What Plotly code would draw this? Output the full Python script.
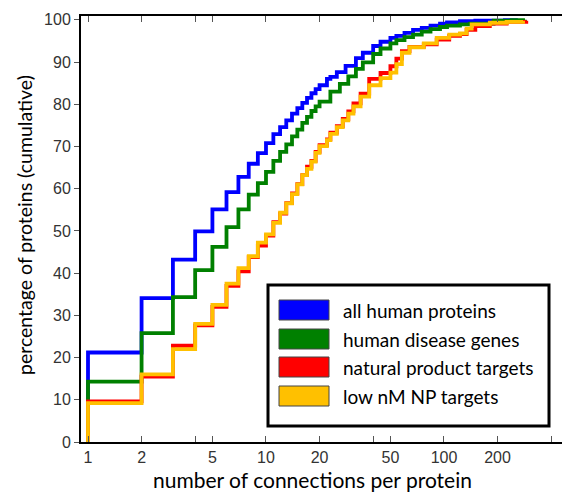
import plotly.graph_objects as go

# ---------------- data ----------------
blue_x = [1, 2, 3, 4, 5, 6, 7, 8, 9, 10, 11, 12, 13, 14, 15, 16, 17, 18, 19, 20,
          22, 23, 25, 28, 32, 35, 40, 44, 50, 54, 60, 67, 75, 84, 95, 104, 123, 150, 220, 260]
blue_y = [21.2, 34.1, 43.2, 49.9, 55.1, 59.2, 62.8, 65.9, 68.4, 70.8, 72.9, 74.6, 76.2, 77.8, 79.1,
          80.3, 81.5, 82.6, 83.6, 84.5, 86.0, 86.5, 87.6, 89.1, 90.9, 92.2, 93.8, 94.8, 95.7, 96.2,
          96.9, 97.6, 98.1, 98.6, 99.1, 99.4, 99.7, 99.8, 99.9, 100.0]

green_x = [1, 2, 3, 4, 5, 6, 7, 8, 9, 10, 11, 12, 13, 14, 15, 16, 17, 18, 19, 20,
           23, 26, 29, 32, 35, 40, 44, 50, 54, 60, 67, 75, 84, 95, 104, 123, 140, 190, 240, 285]
green_y = [14.3, 25.8, 34.3, 40.7, 46.2, 50.9, 55.1, 58.6, 61.3, 64.0, 66.6, 68.7, 70.5, 72.4, 74.0,
           75.6, 77.0, 78.4, 79.5, 80.6, 83.0, 84.8, 86.6, 88.4, 89.9, 91.9, 93.2, 94.4, 95.2, 95.9,
           96.5, 97.2, 97.8, 98.3, 98.6, 98.9, 99.1, 99.8, 99.9, 100.0]

red_x = [1, 2, 3, 4, 5, 6, 7, 8, 9, 10, 11, 12, 13, 14, 15, 16, 17, 18, 19, 20,
         22, 23, 25, 27, 29, 31, 34, 38, 44, 50, 54, 58, 64, 77, 91, 107, 123, 134, 150, 181, 225, 290]
red_y = [9.6, 15.5, 22.8, 27.6, 32.0, 37.0, 40.4, 43.8, 46.5, 48.9, 52.1, 54.1, 56.6, 58.9, 61.1,
         63.2, 65.2, 66.6, 68.7, 70.3, 71.7, 73.3, 74.8, 76.5, 78.3, 80.2, 82.5, 86.0, 87.4, 89.0,
         90.8, 92.6, 93.6, 94.2, 95.3, 96.2, 96.6, 97.6, 98.5, 99.1, 99.5, 99.8]

orange_x = [1, 2, 3, 4, 5, 6, 7, 8, 9, 10, 11, 12, 13, 14, 15, 16, 17, 18, 19, 20,
            22, 23, 25, 27, 29, 31, 34, 38, 44, 50, 54, 58, 64, 77, 91, 107, 123, 134, 143, 181, 225, 278]
orange_y = [9.2, 16.0, 22.0, 28.0, 32.5, 37.5, 41.2, 44.0, 47.2, 49.2, 51.9, 54.3, 56.5, 58.7, 61.0,
            63.2, 64.7, 66.4, 68.5, 70.1, 71.5, 73.0, 74.6, 76.2, 77.8, 79.5, 81.8, 84.5, 86.2, 87.5,
            89.5, 92.2, 93.5, 94.4, 95.7, 96.5, 96.8, 97.9, 98.9, 99.3, 99.5, 99.8]

series_names = ["all human proteins", "human disease genes",
                "natural product targets", "low nM NP targets"]
series_colors = ["#0000FF", "#008000", "#FF0000", "#FFC000"]

x_tickvals = [1, 2, 4, 5, 10, 20, 40, 50, 100, 200, 400]
x_ticktext = ["1", "2", "", "5", "10", "20", "", "50", "100", "200", ""]
y_tickvals = [0, 10, 20, 30, 40, 50, 60, 70, 80, 90, 100]

# ---------------- figure ----------------
W, H = 562, 493
ML, MR, MT, MB = 81, 0, 16, 51
PW, PH = W - ML - MR, H - MT - MB


def px(x):
    return (x - ML) / PW


def py(y):
    return (H - MB - y) / PH


fig = go.Figure()
all_series = [(blue_x, blue_y), (green_x, green_y), (red_x, red_y), (orange_x, orange_y)]
for (xs, ys), name, col in zip(all_series, series_names, series_colors):
    fig.add_trace(go.Scatter(
        x=[xs[0]] + list(xs), y=[0] + list(ys), name=name,
        mode="lines", line=dict(color=col, width=3.8, shape="hv"),
        showlegend=False, hoverinfo="skip"))

tickfont = dict(family="Liberation Sans, Arial, sans-serif", size=16, color="#333333")
fig.update_xaxes(type="log", range=[-0.0393, 2.663],
                 tickvals=x_tickvals, ticktext=x_ticktext,
                 ticks="inside", ticklen=6, tickwidth=1, tickcolor="#555555",
                 showline=True, linecolor="black", linewidth=2, mirror="ticks",
                 showgrid=False, zeroline=False, tickfont=tickfont)
fig.update_yaxes(range=[0, 100.9], tickvals=y_tickvals,
                 ticks="outside", ticklen=5, tickwidth=1, tickcolor="#555555",
                 showline=True, linecolor="black", linewidth=2, mirror=False,
                 showgrid=False, zeroline=False, tickfont=tickfont)

annotations = [
    dict(text="number of connections per protein", xref="paper", yref="paper",
         x=px(312), y=py(479), xanchor="center", yanchor="middle",
         showarrow=False, borderpad=0,
         font=dict(family="Lato, Open Sans, sans-serif", size=21, color="black")),
    dict(text="percentage of proteins (cumulative)", xref="paper", yref="paper",
         x=px(24), y=py(225), xanchor="center", yanchor="middle", textangle=-90,
         showarrow=False,
         font=dict(family="Lato, Open Sans, sans-serif", size=19.5, color="black")),
]

shapes = [dict(type="rect", xref="paper", yref="paper",
               x0=px(268), x1=px(549), y0=py(426), y1=py(285),
               line=dict(color="black", width=3), fillcolor="white", layer="above")]
legend_rows = [310, 339, 367, 396]
for name, col, yc in zip(series_names, series_colors, legend_rows):
    shapes.append(dict(type="rect", xref="paper", yref="paper",
                       x0=px(279), x1=px(329), y0=py(yc + 10), y1=py(yc - 10),
                       line=dict(color="#444444", width=1), fillcolor=col, layer="above"))
    annotations.append(dict(text=name, xref="paper", yref="paper",
                            x=px(341), y=py(yc), xanchor="left", yanchor="middle",
                            showarrow=False,
                            font=dict(family="Lato, Open Sans, sans-serif", size=19, color="black")))

fig.update_layout(width=W, height=H, margin=dict(l=ML, r=MR, t=MT, b=MB),
                  paper_bgcolor="white", plot_bgcolor="white",
                  showlegend=False, shapes=shapes, annotations=annotations)

fig.write_html("out.html")
